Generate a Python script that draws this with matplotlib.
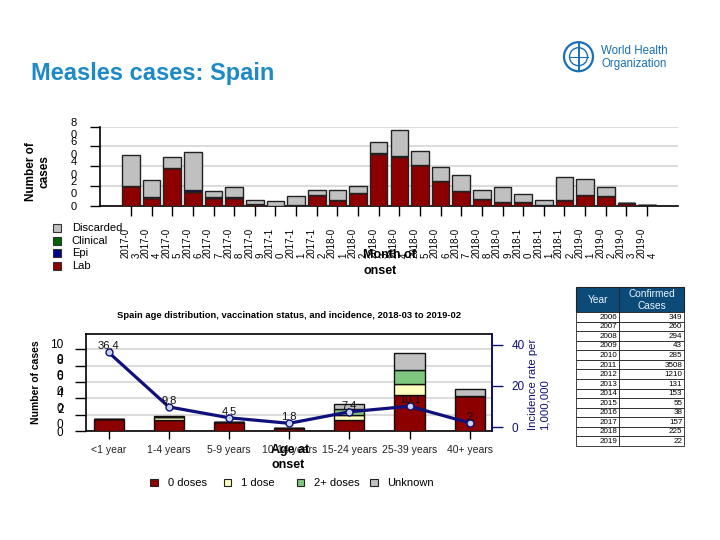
import matplotlib
matplotlib.use("Agg")
import matplotlib.pyplot as plt
from matplotlib.patches import Rectangle, Circle
import numpy as np

plt.rcParams['font.family'] = ['Liberation Sans', 'DejaVu Sans']

# ---------------- data ----------------
months = ['2017-03', '2017-04', '2017-05', '2017-06', '2017-07', '2017-08', '2017-09',
          '2017-10', '2017-11', '2017-12', '2018-01', '2018-02', '2018-03', '2018-04',
          '2018-05', '2018-06', '2018-07', '2018-08', '2018-09', '2018-10', '2018-11',
          '2018-12', '2019-01', '2019-02', '2019-03', '2019-04']
lab = [20, 8, 38, 14, 8, 8, 2, 0, 1, 11, 6, 13, 52, 49, 41, 25, 15, 7, 4, 4, 1, 6, 11, 10, 3, 1]
epi = [0, 1, 0, 2, 1, 1, 0, 0, 0, 0, 0, 0, 1, 1, 0, 0, 0, 0, 0, 0, 0, 0, 0, 0, 0, 0]
clinical = [0] * 26
discarded = [31, 17, 11, 38, 6, 10, 4, 5, 9, 5, 10, 7, 12, 27, 14, 14, 16, 9, 15, 8, 5, 23, 16, 9, 0, 0]

age_groups = ['<1 year', '1-4 years', '5-9 years', '10-14 years', '15-24 years',
              '25-39 years', '40+ years']
dose0 = [15, 14, 11, 4, 14, 44, 43]
dose1 = [0, 3, 0, 0, 5, 13, 0]
dose2 = [0, 0, 0, 0, 8, 18, 0]
unknown = [0, 1, 0, 0, 6, 21, 9]
incidence = [36.4, 9.8, 4.5, 1.8, 7.4, 10.1, 2]

table_years = [2006, 2007, 2008, 2009, 2010, 2011, 2012, 2013, 2014, 2015, 2016, 2017, 2018, 2019]
table_cases = [349, 260, 294, 43, 285, 3508, 1210, 131, 153, 55, 38, 157, 225, 22]

# ---------------- colours ----------------
C_LAB = '#8c0000'
C_EPI = '#00008b'
C_CLIN = '#006400'
C_DISC = '#c0c0c0'
C_D1 = '#ffffc0'
C_D2 = '#80c880'
C_UNK = '#c0c0c0'
NAVY = '#10107a'
TITLE_BLUE = '#1d8ac7'

W, H = 720, 540
fig = plt.figure(figsize=(7.2, 5.4), dpi=100)


def fx(x):
    return x / W


def fy(y):
    return 1 - y / H


def split_label(s):
    return s[:-1] + '\n' + s[-1] if len(s) > 1 else s


# ---------------- title ----------------
fig.text(fx(31), fy(80), 'Measles cases: Spain', fontsize=17, fontweight='bold',
         color=TITLE_BLUE, ha='left', va='baseline')

# ---------------- top chart ----------------
ax1 = fig.add_axes([fx(100), fy(205.7), (678 - 100) / W, 79 / H])
x = np.arange(len(months))
bw = 0.85
ek = dict(edgecolor='#222222', linewidth=1.0, zorder=3)
b0 = np.zeros(len(months))
ax1.bar(x, lab, bw, bottom=b0, color=C_LAB, **ek)
b0 = b0 + np.array(lab)
ax1.bar(x, epi, bw, bottom=b0, color=C_EPI, **ek)
b0 = b0 + np.array(epi)
ax1.bar(x, clinical, bw, bottom=b0, color=C_CLIN, **ek)
b0 = b0 + np.array(clinical)
ax1.bar(x, discarded, bw, bottom=b0, color=C_DISC, **ek)

ax1.set_xlim(-1.5, 26.5)
ax1.set_ylim(0, 80)
yt1 = [0, 20, 40, 60, 80]
ax1.set_yticks(yt1)
ax1.set_yticklabels([split_label(str(v)) for v in yt1], fontsize=8, linespacing=1.3)
ax1.set_xticks(x)
ax1.set_xticklabels([split_label(m) for m in months], rotation=90, fontsize=7,
                    linespacing=1.15, multialignment='left')
ax1.tick_params(axis='y', direction='out', length=7, width=1, pad=10)
ax1.tick_params(axis='x', direction='out', length=7, width=1, pad=9)
ax1.yaxis.grid(True, color='#dcdcdc', linewidth=1.5, zorder=0)
ax1.set_axisbelow(True)
for s in ['top', 'right']:
    ax1.spines[s].set_visible(False)
for s in ['left', 'bottom']:
    ax1.spines[s].set_linewidth(1.2)

fig.text(fx(38), fy(172), 'Number of\ncases', rotation=90, fontsize=8.5, fontweight='bold',
         ha='center', va='center', multialignment='center')
fig.text(fx(363), fy(263), 'Month of\nonset', fontsize=9, fontweight='bold',
         ha='left', va='center', linespacing=1.5)

# ---------------- bottom chart ----------------
ax2 = fig.add_axes([fx(85.7), fy(431), (492 - 85.7) / W, (431 - 334.3) / H])
xa = np.arange(len(age_groups))
bw2 = 0.5
ek2 = dict(edgecolor='#111111', linewidth=1.0, zorder=3)
b = np.zeros(len(age_groups))
for vals, col in [(dose0, C_LAB), (dose1, C_D1), (dose2, C_D2), (unknown, C_UNK)]:
    ax2.bar(xa, vals, bw2, bottom=b, color=col, **ek2)
    b = b + np.array(vals)
ax2.set_xlim(-0.38, 6.37)
ax2.set_ylim(0, 118.4)
yt2 = [0, 20, 40, 60, 80, 100]
ax2.set_yticks(yt2)
ax2.set_yticklabels([split_label(str(v)) for v in yt2], fontsize=8.5, linespacing=1.3)
ax2.set_xticks(xa)
ax2.set_xticklabels(age_groups, fontsize=7.5, color='#222222')
ax2.tick_params(axis='y', direction='out', length=8, width=1, pad=8)
ax2.tick_params(axis='x', direction='out', length=6, width=1, pad=4)
ax2.yaxis.grid(True, color='#dcdcdc', linewidth=1.5, zorder=0)
ax2.set_axisbelow(True)
for s in ax2.spines.values():
    s.set_linewidth(1.2)

ax2r = ax2.twinx()
ax2r.set_ylim(-1.95, 45.2)
ax2r.set_yticks([0, 20, 40])
ax2r.tick_params(axis='y', direction='out', length=8, width=1, colors=NAVY,
                 labelsize=8.5, pad=6)
ax2r.spines['right'].set_color(NAVY)
ax2r.spines['right'].set_linewidth(1.2)
for s in ['top', 'left', 'bottom']:
    ax2r.spines[s].set_visible(False)
ax2r.plot(xa, incidence, color=NAVY, linewidth=2.3, marker='o', markersize=5,
          markerfacecolor='#c8d4ee', markeredgecolor=NAVY, markeredgewidth=1, zorder=5)
for xi, v in zip(xa, incidence):
    ax2r.annotate(f'{v:g}', (xi, v), xytext=(0, 4.5), textcoords='offset points',
                  ha='center', va='center', fontsize=8, color='#111111', zorder=6)

fig.text(fx(289), fy(315.7),
         'Spain age distribution, vaccination status, and incidence, 2018-03 to 2019-02',
         fontsize=6.75, fontweight='bold', ha='center', va='center')
fig.text(fx(36), fy(382.5), 'Number of cases', rotation=90, fontsize=7.5,
         fontweight='bold', ha='center', va='center')
fig.text(fx(539), fy(430), 'Incidence rate per\n1,000,000', rotation=90, fontsize=8.2,
         color=NAVY, ha='center', va='bottom', multialignment='left')
fig.text(fx(271), fy(444), 'Age at\nonset', fontsize=9, fontweight='bold',
         ha='left', va='top', linespacing=1.35)

# ---------------- overlay for legends / table / logo ----------------
ov = fig.add_axes([0, 0, 1, 1])
ov.set_xlim(0, W)
ov.set_ylim(H, 0)
ov.axis('off')

# top legend
top_leg = [('Discarded', C_DISC), ('Clinical', C_CLIN), ('Epi', C_EPI), ('Lab', C_LAB)]
for i, (lbl, col) in enumerate(top_leg):
    yc = 227.7 + i * 12.8
    ov.add_patch(Rectangle((52.7, yc - 4), 8, 8, facecolor=col, edgecolor='#333333', lw=0.8))
    ov.text(71.7, yc, lbl, fontsize=8, ha='left', va='center')

# bottom legend
bot_leg = [('0 doses', C_LAB, 150), ('1 dose', C_D1, 223.5), ('2+ doses', C_D2, 296.7),
           ('Unknown', C_UNK, 370)]
for lbl, col, xs in bot_leg:
    ov.add_patch(Rectangle((xs, 478.7), 7.5, 7.5, facecolor=col, edgecolor='#222222', lw=0.8))
    ov.text(xs + 17.5, 482.7, lbl, fontsize=8, ha='left', va='center')

# table
tl, tr, tdiv = 576, 684.3, 619.3
ht, hb = 287.3, 312.3
rh = (445.7 - hb) / len(table_years)
HDR = '#0c4a77'
ov.add_patch(Rectangle((tl, ht), tr - tl, hb - ht, facecolor=HDR, edgecolor='#222222', lw=0.8))
ov.plot([tdiv, tdiv], [ht, hb], color='#222222', lw=0.6)
ov.text((tl + tdiv) / 2, (ht + hb) / 2, 'Year', color='#e8f4ff', fontsize=7.3,
        ha='center', va='center')
ov.text((tdiv + tr) / 2, (ht + hb) / 2, 'Confirmed\nCases', color='#e8f4ff', fontsize=7.3,
        ha='center', va='center', linespacing=1.25)
for i, (yr, cs) in enumerate(zip(table_years, table_cases)):
    y0 = hb + i * rh
    ov.add_patch(Rectangle((tl, y0), tdiv - tl, rh, facecolor='white', edgecolor='#222222', lw=0.6))
    ov.add_patch(Rectangle((tdiv, y0), tr - tdiv, rh, facecolor='white', edgecolor='#222222', lw=0.6))
    ov.text(tdiv - 2, y0 + rh / 2 + 0.3, str(yr), fontsize=5.8, ha='right', va='center')
    ov.text(tr - 2, y0 + rh / 2 + 0.3, str(cs), fontsize=5.8, ha='right', va='center')

# WHO logo (simplified)
ov.add_patch(Circle((578.5, 56.7), 14.5, facecolor='none', edgecolor='#1a6fb5', lw=1.6))
ov.add_patch(Circle((578.5, 56.7), 9, facecolor='none', edgecolor='#1a6fb5', lw=1.0))
ov.plot([578.5, 578.5], [44, 70], color='#1a6fb5', lw=1.4)
ov.plot([569.5, 587.5], [56.7, 56.7], color='#1a6fb5', lw=0.8)
ov.text(601, 50.5, 'World Health', fontsize=8.3, color='#1a6fb5', ha='left', va='center')
ov.text(601, 63.5, 'Organization', fontsize=8.3, color='#1a6fb5', ha='left', va='center')

fig.savefig('out.png', dpi=100)
